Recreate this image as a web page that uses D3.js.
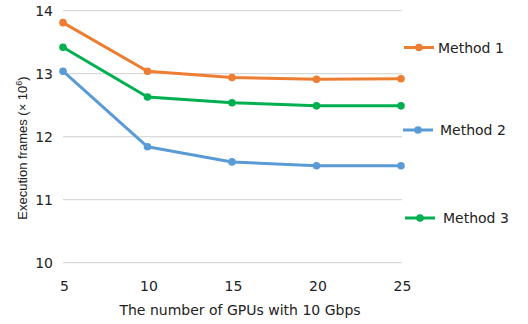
<!DOCTYPE html>
<html><head><meta charset="utf-8">
<script src="https://cdn.jsdelivr.net/npm/d3@7/dist/d3.min.js"></script>
<style>body{margin:0;background:#fff}svg{display:block}</style>
</head><body>
<svg id="c" width="528" height="324"></svg>
<script>
const gpus = [5, 10, 15, 20, 25];
const method1 = [13.81, 13.04, 12.94, 12.91, 12.92];
const method2 = [13.04, 11.84, 11.60, 11.54, 11.54];
const method3 = [13.42, 12.63, 12.54, 12.49, 12.49];
const yTicks = [10, 11, 12, 13, 14];
const seriesNames = ["Method 1", "Method 2", "Method 3"];
const colors = ["#ED7D31", "#5B9BD5", "#00B050"];
const seriesData = [method1, method2, method3];

const svg = d3.select("#c");
const x = d3.scaleLinear().domain([5, 25]).range([63, 401]);
const y = d3.scaleLinear().domain([10, 14]).range([262.7, 10.7]);
const font = "'DejaVu Sans', sans-serif";
const font2 = "'Liberation Sans', Arial, sans-serif";

// grid
svg.append("g").selectAll("line").data(yTicks).join("line")
  .attr("x1", 63).attr("x2", 402)
  .attr("y1", d => y(d)).attr("y2", d => y(d))
  .attr("stroke", "#d9d9d9").attr("stroke-width", 1.2);

// y axis
const ya = svg.append("g").attr("transform", "translate(53,0)")
  .call(d3.axisLeft(y).tickValues(yTicks).tickSize(0).tickPadding(0).tickFormat(d3.format("d")));
ya.select(".domain").remove();
ya.selectAll("text").attr("font-family", font).attr("font-size", 14).attr("fill", "#222").attr("dy", "0.36em");

// x axis
const xa = svg.append("g").attr("transform", "translate(1,281)")
  .call(d3.axisBottom(x).tickValues(gpus).tickSize(0).tickPadding(0).tickFormat(d3.format("d")));
xa.select(".domain").remove();
xa.selectAll("text").attr("font-family", font).attr("font-size", 14).attr("fill", "#222").attr("dy", "0.72em");

// axis titles
svg.append("text").attr("x", 240).attr("y", 315).attr("text-anchor", "middle")
  .attr("font-family", font).attr("font-size", 14).attr("fill", "#222")
  .text("The number of GPUs with 10 Gbps");
const yl = svg.append("text").attr("transform", "translate(27,148) rotate(-90)").attr("text-anchor", "middle")
  .attr("font-family", font2).attr("font-size", 13).attr("fill", "#222");
yl.append("tspan").text("Execution frames (× 10");
yl.append("tspan").attr("dy", -5).attr("font-size", 9).text("6");
yl.append("tspan").attr("dy", 5).text(")");

// lines
const line = d3.line().x((d, i) => x(gpus[i])).y(d => y(d));
seriesData.forEach((s, k) => {
  const g = svg.append("g");
  g.append("path").datum(s).attr("d", line).attr("fill", "none")
    .attr("stroke", colors[k]).attr("stroke-width", 3).attr("stroke-linejoin", "round");
  g.selectAll("circle").data(s).join("circle")
    .attr("cx", (d, i) => x(gpus[i])).attr("cy", d => y(d)).attr("r", 3.8)
    .attr("fill", colors[k]);
});

// legend
const legY = [47.5, 130, 218];
const legX = [404, 403, 405];
const legTX = [34, 37, 38];
seriesNames.forEach((n, k) => {
  const g = svg.append("g").attr("transform", `translate(${legX[k]},${legY[k]})`);
  g.append("line").attr("x1", 0).attr("x2", 30).attr("stroke", colors[k]).attr("stroke-width", 3);
  g.append("circle").attr("cx", 15).attr("r", 3.8).attr("fill", colors[k]);
  g.append("text").attr("x", legTX[k]).attr("dy", "0.36em").attr("font-family", font)
    .attr("font-size", 14).attr("fill", "#222").text(n);
});
</script>
</body></html>
